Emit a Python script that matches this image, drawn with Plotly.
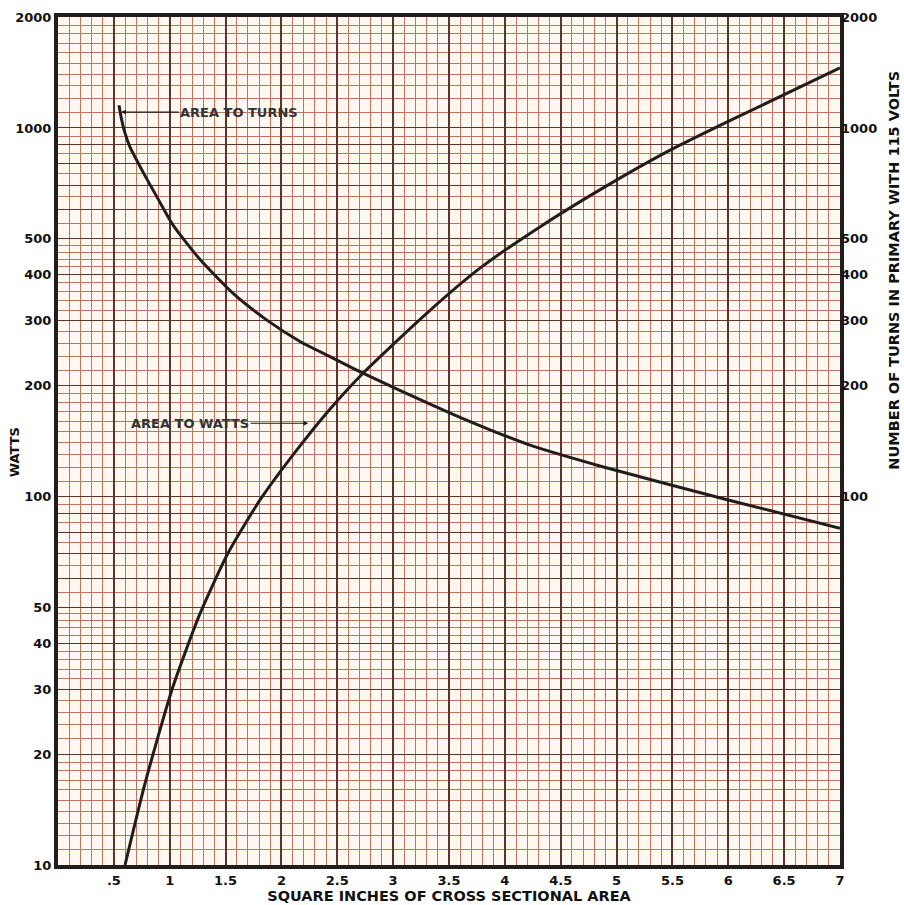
import math
import numpy as np
import plotly.graph_objects as go

# curve readings (square inches of cross sectional area -> watts / turns)
watts_x = [0.60, 0.78, 1.02, 1.27, 1.52, 1.81, 2.14, 2.43, 2.73, 3.33, 3.78, 4.31, 4.85, 5.45, 5.99, 7.0]
watts_y = [10, 16.7, 29.9, 48, 70, 98, 134, 172, 216, 320, 417, 538, 679, 861, 1038, 1455]

turns_x = [0.546, 0.57, 0.60, 0.644, 0.76, 0.898, 1.03, 1.27, 1.57, 1.87, 2.17, 2.43, 2.73, 3.03, 3.62, 4.22, 4.85, 5.99, 7.0]
turns_y = [1153, 1052, 968, 888, 760, 640, 545, 440, 355, 301, 263, 240, 216, 196, 163, 138, 121, 98, 82]

x_tick_vals = [0.5, 1, 1.5, 2, 2.5, 3, 3.5, 4, 4.5, 5, 5.5, 6, 6.5, 7]
x_tick_text = [".5", "1", "1.5", "2", "2.5", "3", "3.5", "4", "4.5", "5", "5.5", "6", "6.5", "7"]

left_labels = [10, 20, 30, 40, 50, 100, 200, 300, 400, 500, 1000, 2000]
right_labels = [100, 200, 300, 400, 500, 1000, 2000]

# graph-paper rulings (log paper: 1-2 by .1, 2-5 by .2, 5-10 by .5)
decades = [10, 100, 1000]
major_y = [m * d for d in decades for m in range(1, 10) if m * d <= 2000] + [2000]
minor_y = []
for d in decades:
    minor_y += [v * d for v in np.arange(1.1, 2.0, 0.1)]
    minor_y += [v * d for v in np.arange(2.2, 5.0, 0.2)]
    minor_y += [v * d for v in np.arange(5.5, 10.0, 0.5)]
minor_y = [v for v in minor_y if v <= 2000 and abs(v - round(v, -int(math.floor(math.log10(v))))) > 1e-6]

y_text = [str(v) if v in left_labels else "" for v in major_y]

MAJOR = "#5b342b"
MINOR = "#bf7462"
INK = "#221d1b"
FONT = "DejaVu Sans"
yr = [1, math.log10(2000)]
curve = dict(color=INK, width=3, shape="spline", smoothing=0.6)

fig = go.Figure()
fig.add_trace(go.Scatter(x=watts_x, y=watts_y, mode="lines", line=curve, name="Area to watts", showlegend=False))
fig.add_trace(go.Scatter(x=turns_x, y=turns_y, mode="lines", line=curve, name="Area to turns",
                         yaxis="y2", showlegend=False))

fig.add_annotation(x=0.565, y=math.log10(1104), text="AREA TO TURNS", showarrow=True, ax=118, ay=0,
                   arrowhead=2, arrowsize=0.8, arrowwidth=1.2, arrowcolor=INK, xanchor="center",
                   font=dict(family=FONT, size=13, color="#333", weight="bold"))
fig.add_annotation(x=2.24, y=math.log10(158), text="AREA TO WATTS", showarrow=True, ax=-118, ay=0,
                   arrowhead=2, arrowsize=0.8, arrowwidth=1.2, arrowcolor=INK, xanchor="center",
                   font=dict(family=FONT, size=13, color="#333", weight="bold"))

# axis titles placed as in the original sheet
fig.add_annotation(xref="paper", yref="paper", x=-0.056, y=0.487, text="WATTS", textangle=-90,
                   xanchor="center", yanchor="middle", showarrow=False,
                   font=dict(family=FONT, size=13, color="#111", weight="bold"))
fig.add_annotation(xref="paper", yref="paper", x=1.069, y=0.702, text="NUMBER OF TURNS IN PRIMARY WITH 115 VOLTS",
                   textangle=-90, xanchor="center", yanchor="middle", showarrow=False,
                   font=dict(family=FONT, size=14.5, color="#111", weight="bold"))

fig.update_layout(
    width=904, height=905,
    margin=dict(l=58, r=64, t=17, b=40),
    paper_bgcolor="white", plot_bgcolor="#fff8f1",
    template="none",
    xaxis=dict(range=[0, 7], tickmode="array", tickvals=x_tick_vals, ticktext=x_tick_text,
               showgrid=True, gridcolor=MAJOR, gridwidth=1.5,
               minor=dict(dtick=0.1, tick0=0, showgrid=True, gridcolor=MINOR, gridwidth=1),
               showline=True, linecolor=INK, linewidth=4, mirror=True, ticks="", zeroline=False,
               tickfont=dict(family=FONT, size=13, color="#111", weight="bold"),
               title=dict(text="SQUARE INCHES OF CROSS SECTIONAL AREA", standoff=2,
                          font=dict(family=FONT, size=14.5, color="#111", weight="bold")),
               automargin=False),
    yaxis=dict(type="log", range=yr, tickmode="array", tickvals=major_y, ticktext=y_text,
               showgrid=True, gridcolor=MAJOR, gridwidth=1.4,
               minor=dict(tickmode="array", tickvals=minor_y, showgrid=True, gridcolor=MINOR, gridwidth=1),
               showline=True, linecolor=INK, linewidth=4, mirror=True, ticks="", zeroline=False,
               tickfont=dict(family=FONT, size=13, color="#111", weight="bold"),
               automargin=False),
    yaxis2=dict(type="log", range=yr, overlaying="y", side="right", anchor="x", tickmode="array",
                tickvals=right_labels, ticktext=[str(v) for v in right_labels], showgrid=False, ticks="",
                tickfont=dict(family=FONT, size=13, color="#111", weight="bold"),
                automargin=False, zeroline=False),
)

fig.write_html("out.html", config={"displayModeBar": False}, post_script="document.body.style.margin='0';")
